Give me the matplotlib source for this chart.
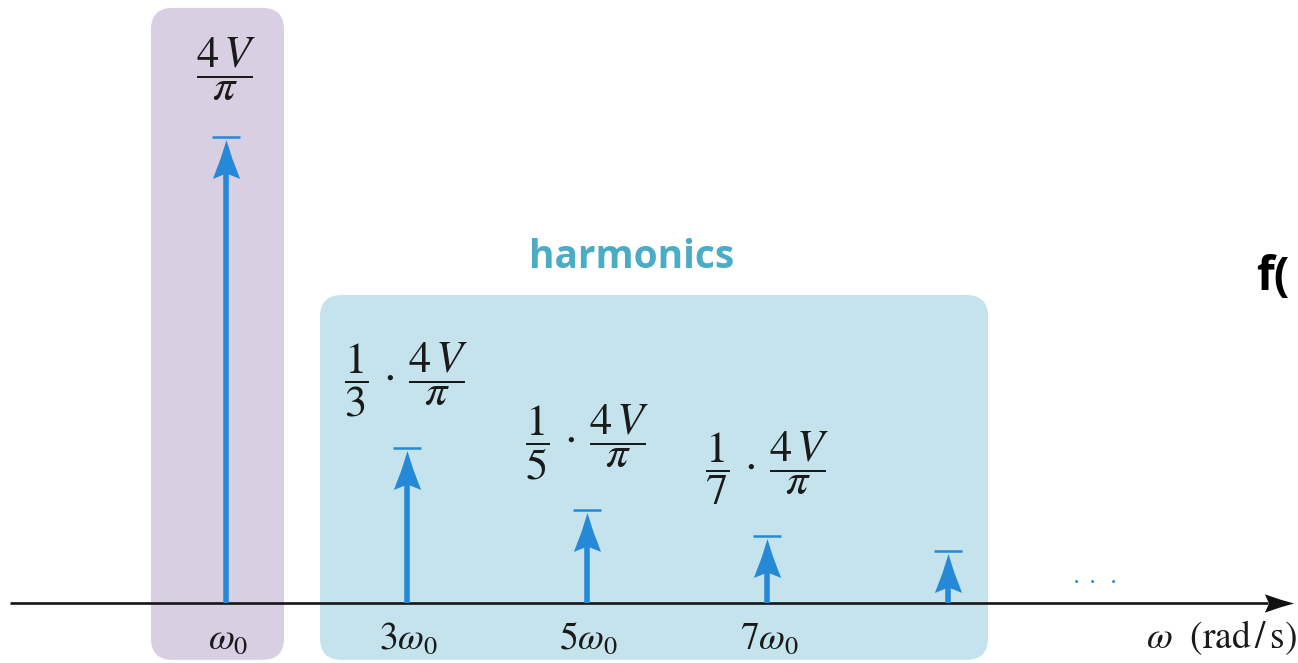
import matplotlib
matplotlib.use('Agg')
import matplotlib.pyplot as plt
from matplotlib.patches import FancyBboxPatch
from matplotlib.path import Path

# Square-wave spectrum: odd harmonics with amplitude (1/n) * 4V/pi
harmonics = [1, 3, 5, 7, 9]
amplitudes = [1.0, 1 / 3, 1 / 5, 1 / 7, 1 / 9]   # in units of 4V/pi
amp_labels = [r'$\dfrac{4\,V}{\pi}$',
              r'$\dfrac{1}{3}\,\cdot\,\dfrac{4\,V}{\pi}$',
              r'$\dfrac{1}{5}\,\cdot\,\dfrac{4\,V}{\pi}$',
              r'$\dfrac{1}{7}\,\cdot\,\dfrac{4\,V}{\pi}$',
              None]
tick_labels = [r'$\omega_0$', r'$3\omega_0$', r'$5\omega_0$', r'$7\omega_0$', None]

BLUE = '#2589d8'
PURPLE_BG = '#d9cfe2'
CYAN_BG = '#c5e3ec'
TEAL_TEXT = '#4bacc6'

plt.rcParams['mathtext.fontset'] = 'stix'
plt.rcParams['font.family'] = ['Open Sans', 'DejaVu Sans']

W, H = 1298, 663
px_x = 90.2     # pixels per harmonic step
px_y = 466.0    # pixels per 4V/pi

fig = plt.figure(figsize=(W / 100, H / 100), dpi=100)
ax = fig.add_axes([0, 0, 1, 1])
ax.set_xlim(-136 / px_x, (W - 136) / px_x)
ax.set_ylim(-(H - 603) / px_y, 603 / px_y)
ax.axis('off')


def notched_head(angle='up'):
    pts = [(0, 1), (0.3, 0.05), (0.7, -1), (0, -0.72),
           (-0.7, -1), (-0.3, 0.05), (0, 1)]
    if angle == 'right':
        pts = [(y, x * 0.9) for x, y in pts]
    codes = [Path.MOVETO] + [Path.LINETO] * (len(pts) - 2) + [Path.CLOSEPOLY]
    return Path(pts, codes)


aspect = px_x / px_y


def rounded_box(x0, x1, y0, y1, color):
    box = FancyBboxPatch((x0, y0), x1 - x0, y1 - y0,
                         boxstyle='round,pad=0,rounding_size=0.24',
                         mutation_aspect=aspect,
                         facecolor=color, edgecolor='none', zorder=0)
    ax.add_patch(box)


# background groups: fundamental and harmonics
rounded_box(harmonics[0] - 0.834, harmonics[0] + 0.641, -0.122, 1.277, PURPLE_BG)
rounded_box(harmonics[1] - 0.96, harmonics[4] + 0.446, -0.122, 0.661, CYAN_BG)

ax.text(5.49, 0.742, 'harmonics', color=TEAL_TEXT,
        fontsize=28, fontweight='bold', ha='center', va='center')
ax.text((1256 - 136) / px_x, (603 - 278) / px_y, 'f(', color='black',
        fontsize=33, fontweight='bold', ha='left', va='center')

# frequency axis
ax.plot([-1.40, 12.55], [0, 0], color='#151515', lw=1.9, zorder=2,
        solid_capstyle='butt')
ax.plot([12.67], [0], marker=notched_head('right'), markersize=21,
        color='#111111', markeredgewidth=0, zorder=3)
ax.text(12.88 - 0.01, -0.075, r'$\omega\ \ (\mathrm{rad\,/\,s})$', fontsize=27,
        ha='right', va='center', color='#1a1a1a')

# spectral lines
head_off = 22 / px_y
for n, a, lab, tl in zip(harmonics, amplitudes, amp_labels, tick_labels):
    ax.vlines(n, 0, a - head_off, color=BLUE, lw=4.0, zorder=3)
    ax.plot([n], [a - head_off], marker=notched_head(), markersize=28,
            color=BLUE, markeredgewidth=0, zorder=4)
    ax.plot([n], [a], marker='_', markersize=20, markeredgewidth=1.8,
            color=BLUE, zorder=4)
    if lab:
        ax.text(n, a + 68 / px_y, lab, fontsize=32, ha='center', va='center',
                color='#1a1a1a')
    if tl:
        ax.text(n + 0.02, -0.078, tl, fontsize=27, ha='center', va='center',
                color='#1a1a1a')

ax.text((1094 - 136) / px_x, 0.05, r'$\cdot\ \cdot\ \cdot$', fontsize=18,
        ha='center', va='center', color=BLUE)

fig.savefig('out.png', dpi=100)
